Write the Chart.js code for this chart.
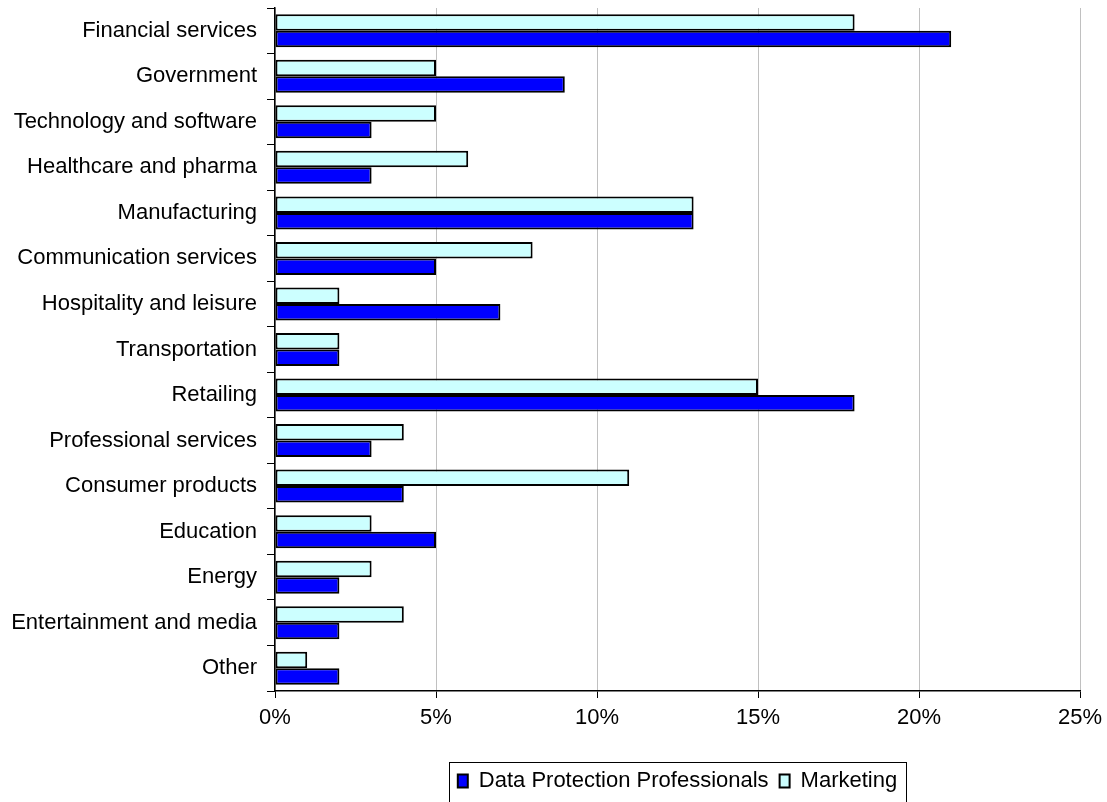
<!DOCTYPE html>
<html>
<head>
<meta charset="utf-8">
<title>Industry distribution</title>
<script src="https://cdn.jsdelivr.net/npm/chart.js@4/dist/chart.umd.min.js"></script>
<style>
  html, body { margin: 0; padding: 0; background: #ffffff; }
  #wrap { width: 1107px; height: 802px; position: relative; }
</style>
</head>
<body>
<div id="wrap"><canvas id="chart" width="1107" height="802"></canvas></div>
<script>
// Industry categories, top to bottom
const categories = [
  'Financial services', 'Government', 'Technology and software',
  'Healthcare and pharma', 'Manufacturing', 'Communication services',
  'Hospitality and leisure', 'Transportation', 'Retailing',
  'Professional services', 'Consumer products', 'Education',
  'Energy', 'Entertainment and media', 'Other'
];

// Share of respondents per industry (%)
const dataProtectionProfessionals = [21, 9, 3, 3, 13, 5, 7, 2, 18, 3, 4, 5, 2, 2, 2];
const marketing = [18, 5, 5, 6, 13, 8, 2, 2, 15, 4, 11, 3, 3, 4, 1];

// Value axis ticks (%)
const xTicks = [0, 5, 10, 15, 20, 25];

Chart.defaults.font.family = '"Liberation Sans", Arial, sans-serif';
Chart.defaults.font.size = 22;
Chart.defaults.color = '#000000';

// Frame around the legend entries
const legendFrame = {
  id: 'legendFrame',
  afterDraw(chart) {
    const lg = chart.legend;
    if (!lg || !lg.legendHitBoxes || !lg.legendHitBoxes.length) return;
    const boxes = lg.legendHitBoxes;
    const left = Math.min(...boxes.map(b => b.left)) - 9;
    const right = Math.max(...boxes.map(b => b.left + b.width)) + 9;
    const top = Math.min(...boxes.map(b => b.top)) - 8;
    const bottom = chart.height + 5;
    const ctx = chart.ctx;
    ctx.save();
    ctx.strokeStyle = '#000000';
    ctx.lineWidth = 1;
    ctx.strokeRect(Math.round(left) + 0.5, Math.round(top) + 0.5,
                   Math.round(right - left), Math.round(bottom - top));
    ctx.restore();
  }
};

new Chart(document.getElementById('chart'), {
  type: 'bar',
  data: {
    labels: categories,
    datasets: [
      {
        label: 'Marketing',
        data: marketing,
        backgroundColor: '#CCFFFF',
        borderColor: '#000000',
        borderWidth: 2,
        borderSkipped: false
      },
      {
        label: 'Data Protection Professionals',
        data: dataProtectionProfessionals,
        backgroundColor: '#0000FF',
        borderColor: '#000000',
        borderWidth: 2,
        borderSkipped: false
      }
    ]
  },
  options: {
    indexAxis: 'y',
    responsive: false,
    animation: false,
    events: [],
    categoryPercentage: 0.725,
    barPercentage: 1.0,
    layout: { padding: { top: 8, right: 27, bottom: 0, left: 0 } },
    scales: {
      x: {
        min: 0,
        max: 25,
        afterBuildTicks(scale) {
          scale.ticks = xTicks.map(v => ({ value: v }));
        },
        afterFit(scale) {
          scale.height = 68;
          scale.paddingLeft = 0;
          scale.paddingRight = 0;
        },
        grid: {
          color: '#c0c0c0',
          lineWidth: 1,
          tickColor: '#000000',
          tickLength: 7
        },
        border: { color: '#000000', width: 1.5 },
        ticks: {
          padding: 7,
          callback: v => v + '%'
        }
      },
      y: {
        afterFit(scale) {
          scale.width = 275;
          scale.paddingTop = 0;
          scale.paddingBottom = 0;
        },
        grid: {
          drawOnChartArea: false,
          offset: true,
          tickColor: '#000000',
          tickLength: 8
        },
        border: { color: '#000000', width: 1.5 },
        ticks: { padding: 10, autoSkip: false }
      }
    },
    plugins: {
      legend: {
        position: 'bottom',
        fullSize: false,
        reverse: true,
        labels: {
          boxWidth: 10,
          boxHeight: 13,
          padding: 11,
          font: { size: 22 }
        }
      },
      tooltip: { enabled: false }
    }
  },
  plugins: [legendFrame]
});
</script>
</body>
</html>
